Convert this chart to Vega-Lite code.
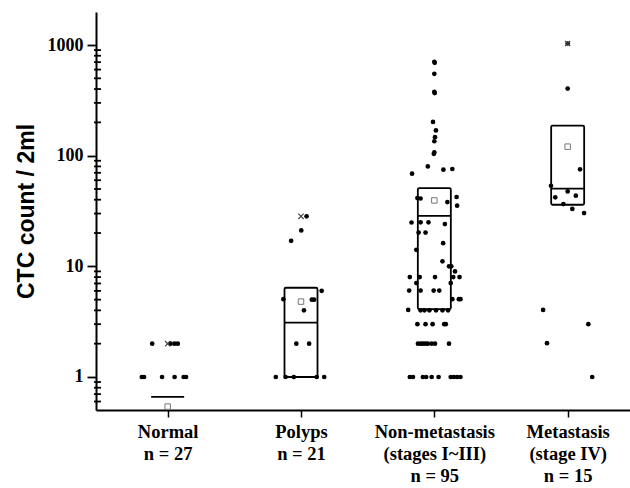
{
  "$schema": "https://vega.github.io/schema/vega-lite/v6.json",
  "width": 534,
  "height": 398,
  "autosize": {"type": "none"},
  "padding": {"left": 96, "top": 12, "right": 0, "bottom": 78},
  "background": "white",
  "config": {"view": {"stroke": null}},
  "datasets": {
    "points": [
      {"group": "Normal", "pos": 0.884, "count": 2},
      {"group": "Normal", "pos": 1.022, "count": 2},
      {"group": "Normal", "pos": 1.052, "count": 2},
      {"group": "Normal", "pos": 1.076, "count": 2},
      {"group": "Normal", "pos": 0.806, "count": 1},
      {"group": "Normal", "pos": 0.823, "count": 1},
      {"group": "Normal", "pos": 0.958, "count": 1},
      {"group": "Normal", "pos": 1.052, "count": 1},
      {"group": "Normal", "pos": 1.120, "count": 1},
      {"group": "Normal", "pos": 1.138, "count": 1},
      {"group": "Polyps", "pos": 2.042, "count": 28.3},
      {"group": "Polyps", "pos": 2.002, "count": 21.1},
      {"group": "Polyps", "pos": 1.926, "count": 17},
      {"group": "Polyps", "pos": 2.155, "count": 6.0},
      {"group": "Polyps", "pos": 1.868, "count": 5.05},
      {"group": "Polyps", "pos": 2.081, "count": 5},
      {"group": "Polyps", "pos": 2.098, "count": 5},
      {"group": "Polyps", "pos": 2.022, "count": 4},
      {"group": "Polyps", "pos": 1.965, "count": 2},
      {"group": "Polyps", "pos": 2.061, "count": 2},
      {"group": "Polyps", "pos": 1.811, "count": 1},
      {"group": "Polyps", "pos": 1.884, "count": 1},
      {"group": "Polyps", "pos": 1.946, "count": 1},
      {"group": "Polyps", "pos": 2.118, "count": 1},
      {"group": "Polyps", "pos": 2.174, "count": 1},
      {"group": "Non-metastasis", "pos": 3.0, "count": 705},
      {"group": "Non-metastasis", "pos": 3.003, "count": 690},
      {"group": "Non-metastasis", "pos": 3.0, "count": 549},
      {"group": "Non-metastasis", "pos": 3.0, "count": 377},
      {"group": "Non-metastasis", "pos": 3.003, "count": 368},
      {"group": "Non-metastasis", "pos": 2.99, "count": 202},
      {"group": "Non-metastasis", "pos": 3.012, "count": 169},
      {"group": "Non-metastasis", "pos": 3.005, "count": 147},
      {"group": "Non-metastasis", "pos": 3.0, "count": 135},
      {"group": "Non-metastasis", "pos": 3.0, "count": 107},
      {"group": "Non-metastasis", "pos": 2.996, "count": 104},
      {"group": "Non-metastasis", "pos": 2.951, "count": 80},
      {"group": "Non-metastasis", "pos": 3.068, "count": 74.7},
      {"group": "Non-metastasis", "pos": 3.135, "count": 75.8},
      {"group": "Non-metastasis", "pos": 2.833, "count": 68.7},
      {"group": "Non-metastasis", "pos": 2.873, "count": 41.4},
      {"group": "Non-metastasis", "pos": 2.897, "count": 41},
      {"group": "Non-metastasis", "pos": 3.098, "count": 38.1},
      {"group": "Non-metastasis", "pos": 3.167, "count": 42.3},
      {"group": "Non-metastasis", "pos": 3.171, "count": 35.3},
      {"group": "Non-metastasis", "pos": 2.829, "count": 24.9},
      {"group": "Non-metastasis", "pos": 2.897, "count": 25},
      {"group": "Non-metastasis", "pos": 2.956, "count": 25},
      {"group": "Non-metastasis", "pos": 3.079, "count": 24.1},
      {"group": "Non-metastasis", "pos": 2.882, "count": 20.2},
      {"group": "Non-metastasis", "pos": 2.934, "count": 20.2},
      {"group": "Non-metastasis", "pos": 3.066, "count": 16.2},
      {"group": "Non-metastasis", "pos": 2.865, "count": 14.1},
      {"group": "Non-metastasis", "pos": 3.061, "count": 11.1},
      {"group": "Non-metastasis", "pos": 3.110, "count": 10},
      {"group": "Non-metastasis", "pos": 3.127, "count": 10},
      {"group": "Non-metastasis", "pos": 3.155, "count": 9.0},
      {"group": "Non-metastasis", "pos": 2.816, "count": 8},
      {"group": "Non-metastasis", "pos": 2.890, "count": 8},
      {"group": "Non-metastasis", "pos": 3.005, "count": 8},
      {"group": "Non-metastasis", "pos": 3.142, "count": 8},
      {"group": "Non-metastasis", "pos": 3.189, "count": 8},
      {"group": "Non-metastasis", "pos": 2.865, "count": 7.05},
      {"group": "Non-metastasis", "pos": 3.123, "count": 7.05},
      {"group": "Non-metastasis", "pos": 2.811, "count": 6.04},
      {"group": "Non-metastasis", "pos": 2.897, "count": 6.04},
      {"group": "Non-metastasis", "pos": 2.995, "count": 6.04},
      {"group": "Non-metastasis", "pos": 3.037, "count": 6.04},
      {"group": "Non-metastasis", "pos": 3.135, "count": 5.05},
      {"group": "Non-metastasis", "pos": 3.184, "count": 5.05},
      {"group": "Non-metastasis", "pos": 3.196, "count": 5.05},
      {"group": "Non-metastasis", "pos": 2.804, "count": 4.04},
      {"group": "Non-metastasis", "pos": 2.897, "count": 4},
      {"group": "Non-metastasis", "pos": 2.926, "count": 4},
      {"group": "Non-metastasis", "pos": 2.963, "count": 4},
      {"group": "Non-metastasis", "pos": 3.013, "count": 4},
      {"group": "Non-metastasis", "pos": 3.061, "count": 4},
      {"group": "Non-metastasis", "pos": 3.103, "count": 4},
      {"group": "Non-metastasis", "pos": 2.873, "count": 3},
      {"group": "Non-metastasis", "pos": 2.934, "count": 3},
      {"group": "Non-metastasis", "pos": 2.987, "count": 3},
      {"group": "Non-metastasis", "pos": 3.074, "count": 3},
      {"group": "Non-metastasis", "pos": 3.086, "count": 3},
      {"group": "Non-metastasis", "pos": 2.877, "count": 2},
      {"group": "Non-metastasis", "pos": 2.897, "count": 2},
      {"group": "Non-metastasis", "pos": 2.914, "count": 2},
      {"group": "Non-metastasis", "pos": 2.932, "count": 2},
      {"group": "Non-metastasis", "pos": 2.951, "count": 2},
      {"group": "Non-metastasis", "pos": 2.980, "count": 2},
      {"group": "Non-metastasis", "pos": 3.005, "count": 2},
      {"group": "Non-metastasis", "pos": 3.110, "count": 2},
      {"group": "Non-metastasis", "pos": 2.816, "count": 1},
      {"group": "Non-metastasis", "pos": 2.840, "count": 1},
      {"group": "Non-metastasis", "pos": 2.914, "count": 1},
      {"group": "Non-metastasis", "pos": 2.939, "count": 1},
      {"group": "Non-metastasis", "pos": 2.980, "count": 1},
      {"group": "Non-metastasis", "pos": 3.032, "count": 1},
      {"group": "Non-metastasis", "pos": 3.123, "count": 1},
      {"group": "Non-metastasis", "pos": 3.147, "count": 1},
      {"group": "Non-metastasis", "pos": 3.171, "count": 1},
      {"group": "Non-metastasis", "pos": 3.196, "count": 1},
      {"group": "Metastasis", "pos": 4.0, "count": 1032},
      {"group": "Metastasis", "pos": 4.0, "count": 404},
      {"group": "Metastasis", "pos": 4.093, "count": 75.2},
      {"group": "Metastasis", "pos": 3.875, "count": 53.5},
      {"group": "Metastasis", "pos": 4.0, "count": 47.5},
      {"group": "Metastasis", "pos": 3.907, "count": 42},
      {"group": "Metastasis", "pos": 4.061, "count": 43.5},
      {"group": "Metastasis", "pos": 3.968, "count": 36.5},
      {"group": "Metastasis", "pos": 4.035, "count": 33},
      {"group": "Metastasis", "pos": 4.123, "count": 30.3},
      {"group": "Metastasis", "pos": 3.816, "count": 4.04},
      {"group": "Metastasis", "pos": 4.155, "count": 3.0},
      {"group": "Metastasis", "pos": 3.845, "count": 2.02},
      {"group": "Metastasis", "pos": 4.184, "count": 1.0}
    ],
    "summary": [
      {"group": "Normal", "idx": 1, "q1": null, "median": 0.66, "q3": null, "mean": 0.54, "max": 2},
      {"group": "Polyps", "idx": 2, "q1": 1, "median": 3.1, "q3": 6.4, "mean": 4.8, "max": 28.3},
      {"group": "Non-metastasis", "idx": 3, "q1": 4.1, "median": 28.6, "q3": 51, "mean": 39.4, "max": null},
      {"group": "Metastasis", "idx": 4, "q1": 36, "median": 50.3, "q3": 187, "mean": 120.6, "max": 1032}
    ],
    "minorTicks": [
      {"tick": 0.6}, {"tick": 0.7}, {"tick": 0.8}, {"tick": 0.9},
      {"tick": 2}, {"tick": 3}, {"tick": 4}, {"tick": 5}, {"tick": 6}, {"tick": 7}, {"tick": 8}, {"tick": 9},
      {"tick": 20}, {"tick": 30}, {"tick": 40}, {"tick": 50}, {"tick": 60}, {"tick": 70}, {"tick": 80}, {"tick": 90},
      {"tick": 200}, {"tick": 300}, {"tick": 400}, {"tick": 500}, {"tick": 600}, {"tick": 700}, {"tick": 800}, {"tick": 900}
    ]
  },
  "layer": [
    {
      "data": {"name": "points"},
      "mark": {"type": "point", "filled": true, "shape": "circle", "size": 22, "color": "black", "opacity": 1},
      "encoding": {
        "x": {
          "field": "pos", "type": "quantitative",
          "scale": {"domain": [0.5, 4.43], "nice": false, "zero": false},
          "axis": {
            "title": null, "values": [1, 2, 3, 4], "grid": false,
            "labelExpr": "datum.value == 1 ? ['Normal', 'n = 27'] : datum.value == 2 ? ['Polyps', 'n = 21'] : datum.value == 3 ? ['Non-metastasis', '(stages I~III)', 'n = 95'] : ['Metastasis', '(stage IV)', 'n = 15']",
            "labelFont": "Liberation Serif", "labelFontWeight": "bold", "labelFontSize": 18.5, "labelColor": "black",
            "labelLineHeight": 22, "labelPadding": 5, "labelOverlap": false, "labelFlush": false, "labelBound": false,
            "tickSize": 7, "tickWidth": 1.5, "tickColor": "black",
            "domainColor": "black", "domainWidth": 2
          }
        },
        "y": {
          "field": "count", "type": "quantitative",
          "scale": {"type": "log", "domain": [0.503, 1988], "nice": false},
          "axis": {
            "title": "CTC count / 2ml", "grid": false,
            "values": [1, 10, 100, 1000], "format": "d",
            "labelFont": "Liberation Serif", "labelFontWeight": "bold", "labelFontSize": 18, "labelColor": "black",
            "labelPadding": 4, "labelOverlap": false, "labelBound": false,
            "tickSize": 9, "tickWidth": 1.8, "tickColor": "black",
            "domainColor": "black", "domainWidth": 2,
            "titleFont": "Liberation Sans", "titleFontWeight": "bold", "titleFontSize": 23, "titleColor": "black", "titlePadding": 9
          }
        }
      }
    },
    {
      "data": {"name": "minorTicks"},
      "mark": {"type": "tick", "orient": "horizontal", "size": 7, "thickness": 1.8, "xOffset": -3.5, "color": "black", "opacity": 1, "clip": false},
      "encoding": {
        "x": {"datum": 0.5, "type": "quantitative"},
        "y": {"field": "tick", "type": "quantitative", "title": "CTC count / 2ml"}
      }
    },
    {
      "data": {"name": "summary"},
      "mark": {"type": "bar", "size": 33, "fill": "transparent", "stroke": "black", "strokeWidth": 1.8, "cornerRadius": 1.5, "orient": "vertical"},
      "encoding": {
        "x": {"field": "idx", "type": "quantitative"},
        "y": {"field": "q1", "type": "quantitative", "title": "CTC count / 2ml"},
        "y2": {"field": "q3"}
      }
    },
    {
      "data": {"name": "summary"},
      "mark": {"type": "tick", "orient": "horizontal", "size": 33, "thickness": 1.8, "color": "black", "opacity": 1},
      "encoding": {
        "x": {"field": "idx", "type": "quantitative"},
        "y": {"field": "median", "type": "quantitative", "title": "CTC count / 2ml"}
      }
    },
    {
      "data": {"name": "summary"},
      "mark": {"type": "point", "shape": "square", "filled": false, "size": 30, "stroke": "#777777", "strokeWidth": 1, "opacity": 1},
      "encoding": {
        "x": {"field": "idx", "type": "quantitative"},
        "y": {"field": "mean", "type": "quantitative", "title": "CTC count / 2ml"}
      }
    },
    {
      "data": {"name": "summary"},
      "mark": {"type": "point", "shape": "M-1,-1L1,1M-1,1L1,-1", "filled": false, "size": 28, "stroke": "#444444", "strokeWidth": 1.2, "opacity": 1},
      "encoding": {
        "x": {"field": "idx", "type": "quantitative"},
        "y": {"field": "max", "type": "quantitative", "title": "CTC count / 2ml"}
      }
    }
  ]
}
